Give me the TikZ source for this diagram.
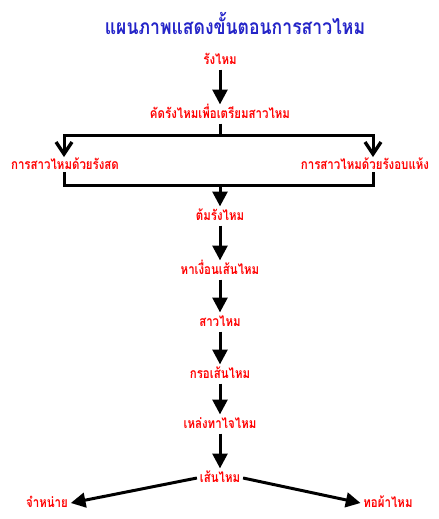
\documentclass[tikz,border=0pt]{standalone}
\usepackage{fontspec}
\newfontfamily\thaifont[Script=Thai,FakeStretch=0.82]{Loma}
\newfontfamily\thaititle[Script=Thai,FakeStretch=0.84]{Loma}
\usetikzlibrary{arrows.meta}
\definecolor{titleblue}{RGB}{36,36,200}
\definecolor{labred}{RGB}{255,0,0}
\tikzset{
  lab/.style={text=labred, font=\thaifont\bfseries\fontsize{10.5}{12}\selectfont, inner xsep=2pt, inner ysep=1.5pt, text height=8.5pt, text depth=2.5pt},
  sidelab/.style={lab, fill=white},
  conn/.style={line width=2.25pt, -{Triangle[length=11pt,width=11pt]}},
  vconn/.style={line width=2.25pt, -{Straight Barb[length=9pt,width=12pt,line width=2.5pt]}},
  plain/.style={line width=2.25pt},
}
\begin{document}
\begin{tikzpicture}[x=0.75pt,y=-0.75pt]
\useasboundingbox (0,0) rectangle (439,519);
\node[text=titleblue, font=\thaititle\bfseries\fontsize{15.7}{18}\selectfont] (title) at (235,23) {แผนภาพแสดงขั้นตอนการสาวไหม};
\node[lab] (n1) at (220,60) {รังไหม};
\node[lab] (n2) at (220,114) {คัดรังไหมเพื่อเตรียมสาวไหม};
\node[sidelab] (l) at (65,165) {การสาวไหมด้วยรังสด};
\node[sidelab] (r) at (365,165) {การสาวไหมด้วยรังอบแห้ง};
\node[lab] (n3) at (220,216) {ต้มรังไหม};
\node[lab] (n4) at (220,270) {หาเงื่อนเส้นไหม};
\node[lab] (n5) at (220,322) {สาวไหม};
\node[lab] (n6) at (220,374) {กรอเส้นไหม};
\node[lab] (n7) at (220,424) {เหล่งทาไจไหม};
\node[lab] (n8) at (220,478) {เส้นไหม};
\node[lab] (s1) at (47,503) {จำหน่าย};
\node[lab] (s2) at (388,503) {ทอผ้าไหม};

\coordinate (split) at (220,135);
\coordinate (lt) at (64,135);
\coordinate (rt) at (373,135);
\coordinate (ltip) at (64,157);
\coordinate (rtip) at (373,157);
\coordinate (lb) at (64,185);
\coordinate (rb) at (373,185);
\coordinate (join) at (220,185);
\coordinate (lbs) at (64,172);
\coordinate (rbs) at (373,172);

\draw[conn] (n1) -- (n2);
\draw[plain] (n2.south -| split) -- (split);
\draw[vconn] (split) -- (lt) -- (ltip);
\draw[vconn] (split) -- (rt) -- (rtip);
\draw[plain] (lbs) -- (lb) -- (rb) -- (rbs);
\draw[conn] (join) -- (n3);
\draw[conn] (n3) -- (n4);
\draw[conn] (n4) -- (n5);
\draw[conn] (n5) -- (n6);
\draw[conn] (n6) -- (n7);
\draw[conn] (n7) -- (n8);
\draw[conn] (n8.west) -- (s1.east);
\draw[conn] (n8.east) -- (s2.west);
\end{tikzpicture}
\end{document}
